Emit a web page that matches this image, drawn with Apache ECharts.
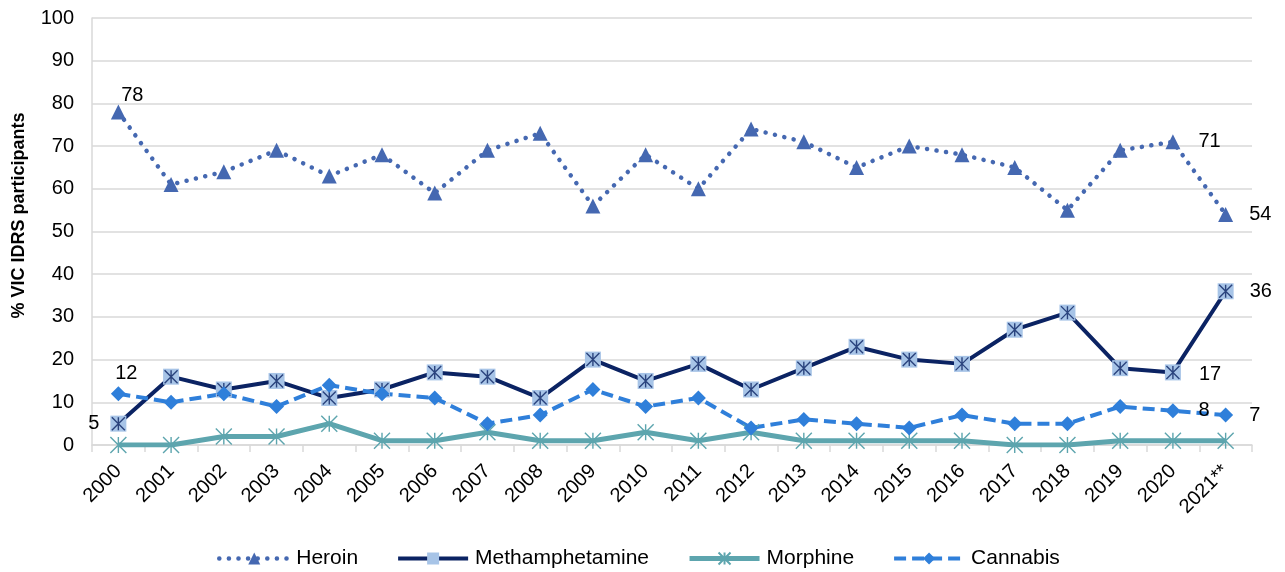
<!DOCTYPE html>
<html lang="en">
<head>
  <meta charset="UTF-8">
  <title>VIC IDRS</title>
  <script src="https://cdn.jsdelivr.net/npm/echarts@6/dist/echarts.min.js"></script>
  <style>
    html,body{padding:0;margin:0;background:#fff;}
    #chart{width:1285px;height:572px;}
  </style>
</head>
<body>
  <div id="chart"></div>
  <script>
    const years = ['2000','2001','2002','2003','2004','2005','2006','2007','2008','2009','2010',
                   '2011','2012','2013','2014','2015','2016','2017','2018','2019','2020','2021**'];
    const heroin   = [78,61,64,69,63,68,59,69,73,56,68,60,74,71,65,70,68,65,55,69,71,54];
    const meth     = [5,16,13,15,11,13,17,16,11,20,15,19,13,18,23,20,19,27,31,18,17,36];
    const morphine = [0,0,2,2,5,1,1,3,1,1,3,1,3,1,1,1,1,0,0,1,1,1];
    const cannabis = [12,10,12,9,14,12,11,5,7,13,9,11,4,6,5,4,7,5,5,9,8,7];

    // which points carry a value label, and where it sits
    const labelAt = {
      heroin:   {0: {position: 'top', offset: [14, 6]}, 20: {position: 'right', offset: [13, 0]}, 21: {position: 'right', offset: [11, 0]}},
      meth:     {0: {position: 'left', offset: [-6, 0]}, 20: {position: 'right', offset: [13, 2]}, 21: {position: 'right', offset: [11, 0]}},
      cannabis: {0: {position: 'top', offset: [8, 2]}, 20: {position: 'right', offset: [13, 0]}, 21: {position: 'right', offset: [11, 0]}}
    };

    function withLabels(values, spec) {
      return values.map((v, i) => {
        if (!spec || !spec[i]) return v;
        return {value: v, label: Object.assign({show: true, color: '#000', fontSize: 20, fontFamily: 'Liberation Sans'}, spec[i])};
      });
    }

    const asterisk = 'path://M0,0L10,10M10,0L0,10M5,0L5,10';
    const navy = '#0B2363';

    let option = {
      animation: false,
      textStyle: {fontFamily: 'Liberation Sans, Arial, sans-serif'},
      grid: {left: 92, right: 33, top: 18, bottom: 127},
      legend: {
        top: 543,
        left: 212,
        itemWidth: 70,
        itemHeight: 15,
        itemGap: 38,
        lineStyle: {width: 'inherit'},
        textStyle: {fontSize: 21, color: '#000', padding: [0, 0, 0, 2]},
        data: ['Heroin', 'Methamphetamine', 'Morphine', 'Cannabis']
      },
      xAxis: {
        type: 'category',
        data: years,
        boundaryGap: true,
        axisLine: {lineStyle: {color: '#d9d9d9', width: 1.5}},
        axisTick: {show: true, interval: 0, length: 7, lineStyle: {color: '#d9d9d9', width: 1.5}},
        axisLabel: {interval: 0, rotate: 45, fontSize: 20, color: '#000', margin: 23}
      },
      yAxis: {
        type: 'value',
        min: 0,
        max: 100,
        interval: 10,
        name: '% VIC IDRS participants',
        nameLocation: 'middle',
        nameGap: 64,
        nameTextStyle: {fontSize: 18, fontWeight: 'bold', color: '#000', padding: [0, 0, 0, 32]},
        axisLine: {show: true, lineStyle: {color: '#d9d9d9', width: 1.5}},
        axisTick: {show: false},
        axisLabel: {fontSize: 20, color: '#000', margin: 18},
        splitLine: {lineStyle: {color: '#d9d9d9', width: 1.5}}
      },
      series: [
        {
          name: 'Heroin',
          type: 'line',
          symbol: 'triangle',
          symbolSize: 15,
          itemStyle: {color: '#4568B1'},
          lineStyle: {color: '#4568B1', width: 4.5, type: [0.1, 9.5], cap: 'round'},
          data: withLabels(heroin, labelAt.heroin)
        },
        {
          name: 'Methamphetamine',
          type: 'line',
          symbol: 'rect',
          symbolSize: 16,
          itemStyle: {color: '#A7C4E7'},
          lineStyle: {color: navy, width: 4},
          data: withLabels(meth, labelAt.meth)
        },
        {
          name: 'Meth marker',
          type: 'scatter',
          silent: true,
          symbol: asterisk,
          symbolSize: 13,
          itemStyle: {color: 'none', borderColor: navy, borderWidth: 1.4},
          z: 3,
          data: meth
        },
        {
          name: 'Morphine',
          type: 'line',
          symbol: asterisk,
          symbolSize: 16,
          itemStyle: {color: 'none', borderColor: '#5DA5AE', borderWidth: 1.4},
          lineStyle: {color: '#5DA5AE', width: 5},
          data: morphine
        },
        {
          name: 'Cannabis',
          type: 'line',
          symbol: 'diamond',
          symbolSize: 15,
          itemStyle: {color: '#2F7FDA'},
          lineStyle: {color: '#2F7FDA', width: 4, type: [12, 6]},
          data: withLabels(cannabis, labelAt.cannabis)
        }
      ]
    };

    let myChart = echarts.init(document.getElementById('chart'));
    myChart.setOption(option);
  </script>
</body>
</html>
